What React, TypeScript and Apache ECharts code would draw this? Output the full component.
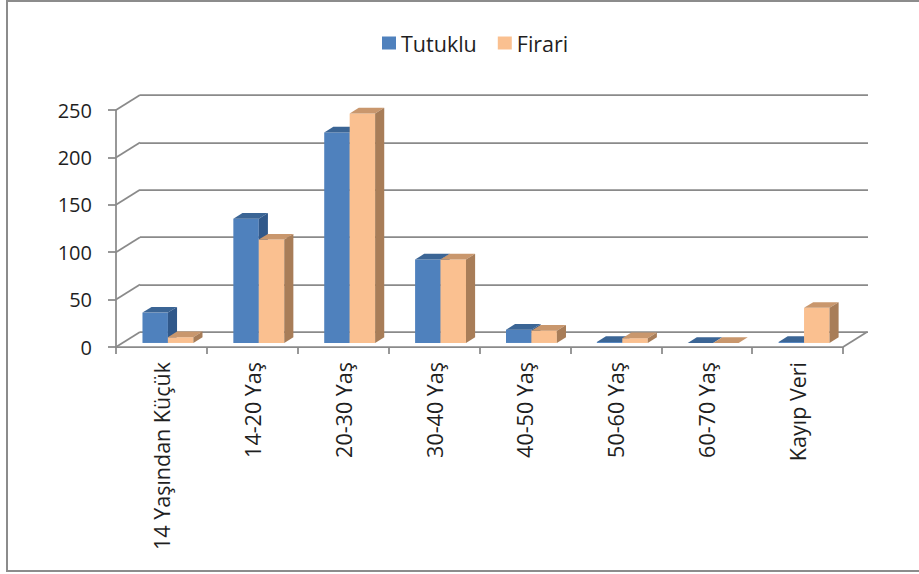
import React, { useEffect, useRef } from "react";
import * as echarts from "echarts";

const categories = [
  "14 Yaşından Küçük",
  "14-20 Yaş",
  "20-30 Yaş",
  "30-40 Yaş",
  "40-50 Yaş",
  "50-60 Yaş",
  "60-70 Yaş",
  "Kayıp Veri",
];
const tutuklu = [32, 131, 222, 88, 14, 1, 0, 1];
const firari = [6, 109, 242, 88, 13, 5, 0, 37];
const yTicks = [0, 50, 100, 150, 200, 250];
const seriesNames = ["Tutuklu", "Firari"];

const DX = 24; // depth offset of the back wall
const DY = -15;
const BAR_FRONT = 0.27; // depth fraction where the bar's front face sits
const BAR_DEPTH = 0.38; // depth fraction of the bar itself
const BAR_W = 0.28; // bar width as share of category band

const faces = [
  { front: "#4F81BD", top: "#3B6595", side: "#30588A" },
  { front: "#FAC090", top: "#C9976D", side: "#A87D58" },
];
const gridColor = "#8a8a8a";
const textColor = "#1f1f1f";

function barRenderer(sIdx: number) {
  return (params: any, api: any) => {
    const ci = api.value(0);
    const v = api.value(1);
    const base = api.coord([ci, 0]);
    const topP = api.coord([ci, v]);
    const band = api.size([1, 0])[0];
    const w = band * BAR_W;
    const fdx = DX * BAR_FRONT;
    const fdy = DY * BAR_FRONT;
    const ddx = DX * BAR_DEPTH;
    const ddy = DY * BAR_DEPTH;
    const x0 = base[0] - w + sIdx * w + fdx;
    const x1 = x0 + w;
    const yb = base[1] + fdy;
    const yt = topP[1] + fdy;
    const c = faces[sIdx];
    return {
      type: "group",
      children: [
        {
          type: "polygon",
          shape: { points: [[x0, yb], [x1, yb], [x1, yt], [x0, yt]] },
          style: { fill: c.front, stroke: null },
        },
        {
          type: "polygon",
          shape: {
            points: [[x0, yt], [x1, yt], [x1 + ddx, yt + ddy], [x0 + ddx, yt + ddy]],
          },
          style: { fill: c.top, stroke: null },
        },
        {
          type: "polygon",
          shape: {
            points: [[x1, yb], [x1, yt], [x1 + ddx, yt + ddy], [x1 + ddx, yb + ddy]],
          },
          style: { fill: c.side, stroke: null },
        },
      ],
    };
  };
}

function wallRenderer(params: any, api: any) {
  const v = api.value(1);
  const p = api.coord([0, v]);
  const band = api.size([1, 0])[0];
  const left = p[0] - band / 2;
  const children: any[] = [
    {
      type: "line",
      shape: { x1: left, y1: p[1], x2: left + DX, y2: p[1] + DY },
      style: { stroke: gridColor, lineWidth: 1.75 },
    },
  ];
  if (v === 0) {
    const right = left + band * categories.length;
    children.push({
      type: "line",
      shape: { x1: right, y1: p[1], x2: right + DX, y2: p[1] + DY },
      style: { stroke: gridColor, lineWidth: 1.75 },
    });
  }
  return { type: "group", children };
}

export default function App() {
  const ref = useRef<HTMLDivElement>(null);
  useEffect(() => {
    if (!ref.current) return;
    const chart = echarts.init(ref.current, null, { renderer: "svg" });
    const yMax = yTicks[yTicks.length - 1];
    const yInt = yTicks[1] - yTicks[0];
    chart.setOption({
      animation: false,
      backgroundColor: "#ffffff",
      legend: {
        data: seriesNames,
        left: 377,
        top: 27,
        icon: "rect",
        itemWidth: 14,
        itemHeight: 13,
        itemGap: 21,
        textStyle: { fontSize: 21.5, fontFamily: "Open Sans", color: textColor },
      },
      graphic: [
        {
          type: "rect",
          shape: { x: 7, y: 1, width: 1000, height: 570 },
          style: { fill: "none", stroke: "#8c8c8c", lineWidth: 2 },
          silent: true,
        },
      ],
      grid: [
        { left: 116, right: 919 - 843, top: 110, bottom: 574 - 347 },
        { left: 140, right: 919 - 868, top: 95, bottom: 574 - 332 },
      ],
      xAxis: [
        {
          type: "category",
          gridIndex: 0,
          data: categories,
          axisLine: { show: true, lineStyle: { color: gridColor, width: 1.75 } },
          axisTick: { show: true, interval: 0, length: 7, lineStyle: { color: gridColor, width: 1.75 } },
          axisLabel: {
            interval: 0,
            rotate: 90,
            margin: 15,
            fontSize: 21.5,
            fontFamily: "Open Sans",
            color: textColor,
          },
          splitLine: { show: false },
        },
        { type: "value", gridIndex: 1, show: false, min: 0, max: 1 },
      ],
      yAxis: [
        {
          type: "value",
          gridIndex: 0,
          min: 0,
          max: yMax,
          interval: yInt,
          axisLine: { show: true, lineStyle: { color: gridColor, width: 1.75 } },
          axisTick: { show: true, length: 8, lineStyle: { color: gridColor, width: 1.75 } },
          axisLabel: {
            margin: 24,
            fontSize: 20,
            fontFamily: "Open Sans",
            color: textColor,
          },
          splitLine: { show: false },
        },
        {
          type: "value",
          gridIndex: 1,
          min: 0,
          max: yMax,
          interval: yInt,
          axisLine: { show: false },
          axisTick: { show: false },
          axisLabel: { show: false },
          splitLine: { show: true, lineStyle: { color: gridColor, width: 1.75 } },
        },
      ],
      series: [
        {
          type: "custom",
          name: "walls",
          xAxisIndex: 0,
          yAxisIndex: 0,
          silent: true,
          renderItem: wallRenderer,
          data: yTicks.map((v) => [0, v]),
          encode: { x: 0, y: 1 },
          z: 1,
        },
        {
          type: "custom",
          name: seriesNames[0],
          xAxisIndex: 0,
          yAxisIndex: 0,
          itemStyle: { color: faces[0].front },
          renderItem: barRenderer(0),
          data: tutuklu.map((v, i) => [i, v]),
          encode: { x: 0, y: 1 },
          z: 2,
        },
        {
          type: "custom",
          name: seriesNames[1],
          xAxisIndex: 0,
          yAxisIndex: 0,
          itemStyle: { color: faces[1].front },
          renderItem: barRenderer(1),
          data: firari.map((v, i) => [i, v]),
          encode: { x: 0, y: 1 },
          z: 3,
        },
      ],
    });
    return () => chart.dispose();
  }, []);
  return (
    <div
      ref={ref}
      style={{ position: "absolute", left: 0, top: 0, width: 919, height: 574 }}
    />
  );
}
